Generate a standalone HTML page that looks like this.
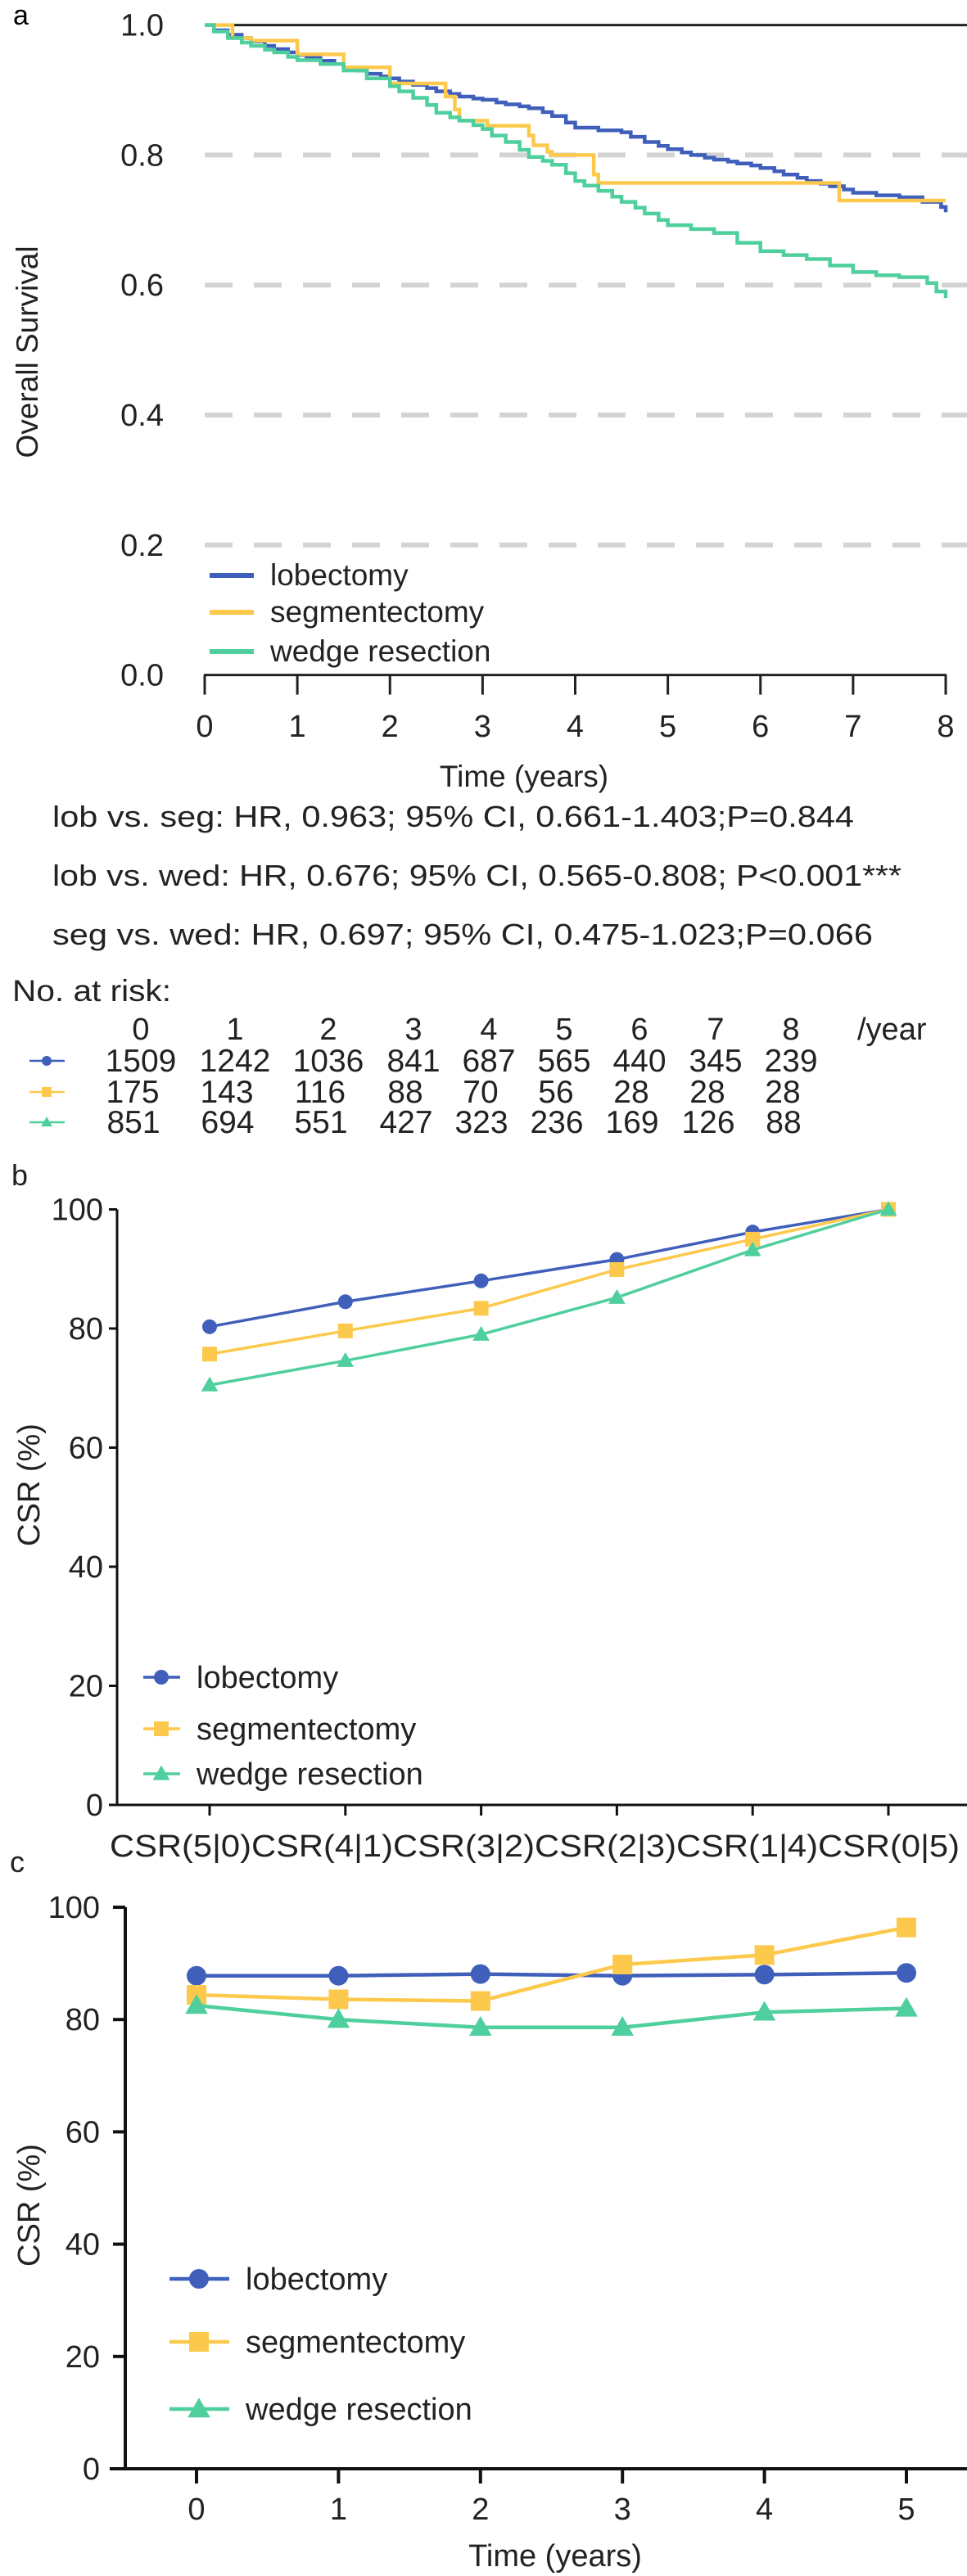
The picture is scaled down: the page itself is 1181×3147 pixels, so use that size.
<!DOCTYPE html>
<html><head><meta charset="utf-8"><style>
html,body{margin:0;padding:0;background:#fff}
svg{display:block;font-family:"Liberation Sans",Arial,sans-serif}
</style></head><body>
<svg id="fig" width="1181" height="3147" viewBox="0 0 1181 3147" xmlns="http://www.w3.org/2000/svg">
<g id="pa"></g>
<g id="pb"></g>
<g id="pc"></g>
</svg>
<script>
// ---------- Panel A data (Kaplan-Meier) ----------
const kmLobT = [0,0.1,0.25,0.4,0.5,0.65,0.75,0.9,1,1.1,1.25,1.4,1.5,1.65,1.75,1.9,2,2.1,2.25,2.4,2.5,2.65,2.75,2.9,3,3.15,3.25,3.4,3.5,3.65,3.75,3.9,4,4.25,4.5,4.6,4.75,4.9,5,5.15,5.25,5.4,5.5,5.65,5.75,5.9,6,6.15,6.25,6.4,6.5,6.65,6.75,6.9,7,7.25,7.5,7.75,7.95,8];
const kmLobS = [1,0.992,0.985,0.98,0.975,0.968,0.963,0.958,0.954,0.95,0.945,0.94,0.935,0.93,0.925,0.921,0.918,0.913,0.908,0.903,0.898,0.894,0.89,0.887,0.885,0.881,0.878,0.875,0.872,0.866,0.86,0.85,0.842,0.838,0.835,0.828,0.82,0.814,0.809,0.804,0.8,0.796,0.793,0.79,0.787,0.784,0.78,0.775,0.77,0.765,0.76,0.756,0.752,0.747,0.742,0.738,0.735,0.728,0.72,0.712];
const kmSegT = [0,0.3,0.5,1,1.5,2,2.6,2.7,2.75,3.05,3.5,3.55,3.7,3.75,4.2,4.25,4.3,6.85,8];
const kmSegS = [1,0.98,0.976,0.955,0.935,0.91,0.89,0.87,0.853,0.845,0.83,0.815,0.805,0.8,0.77,0.757,0.757,0.73,0.73];
const kmWedT = [0,0.1,0.25,0.4,0.5,0.65,0.75,0.9,1,1.25,1.5,1.75,2,2.1,2.25,2.4,2.5,2.65,2.75,2.9,3,3.1,3.25,3.4,3.5,3.65,3.75,3.9,4,4.1,4.25,4.4,4.5,4.65,4.75,4.9,5,5.25,5.5,5.75,6,6.25,6.5,6.75,7,7.25,7.5,7.8,7.9,8];
const kmWedS = [1,0.99,0.98,0.973,0.968,0.962,0.958,0.951,0.946,0.94,0.93,0.918,0.906,0.898,0.888,0.877,0.865,0.858,0.853,0.846,0.84,0.83,0.82,0.808,0.797,0.791,0.785,0.772,0.76,0.753,0.745,0.736,0.728,0.719,0.71,0.7,0.692,0.686,0.68,0.665,0.652,0.646,0.64,0.63,0.62,0.615,0.612,0.603,0.59,0.58];
const aYTicks = ["0.0","0.2","0.4","0.6","0.8","1.0"];
const aXTicks = ["0","1","2","3","4","5","6","7","8"];
const riskYears = ["0","1","2","3","4","5","6","7","8"];
const riskLob = ["1509","1242","1036","841","687","565","440","345","239"];
const riskSeg = ["175","143","116","88","70","56","28","28","28"];
const riskWed = ["851","694","551","427","323","236","169","126","88"];
// ---------- Panel B data ----------
const bCats = ["CSR(5|0)","CSR(4|1)","CSR(3|2)","CSR(2|3)","CSR(1|4)","CSR(0|5)"];
const bLob = [80.3,84.5,88,91.6,96.2,100];
const bSeg = [75.7,79.6,83.4,89.9,95,100];
const bWed = [70.5,74.6,79,85.2,93.2,100];
const csrTicks = ["0","20","40","60","80","100"];
// ---------- Panel C data ----------
const cYears = ["0","1","2","3","4","5"];
const cLob = [87.8,87.8,88.1,87.8,88.0,88.3];
const cSeg = [84.4,83.6,83.3,89.8,91.5,96.4];
const cWed = [82.5,80.0,78.6,78.6,81.3,82.0];

const NS="http://www.w3.org/2000/svg";
const BLUE="#3f5fba", YEL="#fdc94d", GRN="#4fcf9d";
function mk(parent,tag,attrs,text){const e=document.createElementNS(NS,tag);for(const k in attrs)e.setAttribute(k,attrs[k]);if(text!==undefined)e.textContent=text;parent.appendChild(e);return e;}
function marker(g,type,x,y,r,color){
  let e;
  if(type==="circle") e=mk(g,"circle",{cx:x,cy:y,r:r,fill:color});
  else if(type==="square") e=mk(g,"rect",{x:x-r,y:y-r,width:2*r,height:2*r,fill:color});
  else e=mk(g,"polygon",{points:`${x},${y-r*1.15} ${x-r*1.15},${y+r*0.85} ${x+r*1.15},${y+r*0.85}`,fill:color});
  return e;
}

// ================= Panel A =================
const pa=document.getElementById("pa");
const ax=v=>250+v*(1155-250)/8;
const ay=v=>824.6-v*(824.6-30.6);
let t=mk(pa,"text",{x:16,y:30,"font-size":34});t.textContent="a";


aYTicks.forEach(s=>{
  const v=parseFloat(s);
  const l=mk(pa,"text",{x:200,y:ay(v)+13,"font-size":38,"text-anchor":"end",fill:"#222"},s);
  
  
  if(v>0&&v<1){
    const gl=mk(pa,"line",{x1:250,x2:1181,y1:ay(v),y2:ay(v),stroke:"#d3d3d3","stroke-width":6,"stroke-dasharray":"34 26"});
    
    
  }
});
const topLine=mk(pa,"line",{x1:250,x2:1181,y1:ay(1),y2:ay(1),stroke:"#222","stroke-width":3});


const xax=mk(pa,"line",{x1:249,x2:1156,y1:ay(0),y2:ay(0),stroke:"#222","stroke-width":3});


aXTicks.forEach(s=>{
  const v=+s;
  const tk=mk(pa,"line",{x1:ax(v),x2:ax(v),y1:ay(0),y2:ay(0)+24,stroke:"#222","stroke-width":3});
  
  
  const l=mk(pa,"text",{x:ax(v),y:900,"font-size":38,"text-anchor":"middle",fill:"#222"},s);
  
  
});
t=mk(pa,"text",{x:640,y:961,"font-size":37,"text-anchor":"middle",fill:"#222"},"Time (years)");


t=mk(pa,"text",{x:0,y:0,"font-size":37,"text-anchor":"middle",fill:"#222",transform:"translate(46,430) rotate(-90)"},"Overall Survival");


function stepPath(T,S){let d=`M${ax(T[0])},${ay(S[0])}`;for(let i=1;i<T.length;i++){d+=` H${ax(T[i])} V${ay(S[i])}`;}return d;}
[[kmLobT,kmLobS,BLUE,'km-lobectomy'],[kmSegT,kmSegS,YEL,'km-segmentectomy'],[kmWedT,kmWedS,GRN,'km-wedge-resection']].forEach(([T,S,c,n])=>{
  const p=mk(pa,"path",{d:stepPath(T,S),fill:"none",stroke:c,"stroke-width":4.5});
  
  
});
[["lobectomy",BLUE,703],["segmentectomy",YEL,748],["wedge resection",GRN,796]].forEach(([n,c,y])=>{
  const g=mk(pa,"g",{});
  
  
  mk(g,"line",{x1:256,x2:310,y1:y,y2:y,stroke:c,"stroke-width":6});
  mk(g,"text",{x:330,y:y+12,"font-size":37,fill:"#222"},n);
});
// stats
[["lob vs. seg: HR, 0.963; 95% CI, 0.661-1.403;P=0.844",1010,979],
 ["lob vs. wed: HR, 0.676; 95% CI, 0.565-0.808; P<0.001***",1082,1037],
 ["seg vs. wed: HR, 0.697; 95% CI, 0.475-1.023;P=0.066",1154,1002]].forEach(([s,y,w])=>{
  const e=mk(pa,"text",{x:64,y:y,"font-size":36,fill:"#222",textLength:w,lengthAdjust:"spacingAndGlyphs"},s);
  
  
});
t=mk(pa,"text",{x:15,y:1223,"font-size":37,fill:"#222",textLength:194,lengthAdjust:"spacingAndGlyphs"},"No. at risk:");


const riskX=[172,287,401,505,597,689,781,874,966];
riskYears.forEach((s,i)=>{
  const e=mk(pa,"text",{x:riskX[i],y:1270,"font-size":38,"text-anchor":"middle",fill:"#222"},s);
  
  
});
t=mk(pa,"text",{x:1047,y:1270,"font-size":38,fill:"#222"},"/year");


[[riskLob,BLUE,"circle",1309,0],[riskSeg,YEL,"square",1347,-10],[riskWed,GRN,"tri",1384,-9]].forEach(([arr,c,m,y,dx])=>{
  const g=mk(pa,"g",{});
  
  
  mk(g,"line",{x1:36,x2:79,y1:y-13,y2:y-13,stroke:c,"stroke-width":2.5});
  marker(g,m,57,y-13,6,c);
  arr.forEach((s,i)=>mk(g,"text",{x:riskX[i]+dx,y:y,"font-size":39,"text-anchor":"middle",fill:"#222"},s));
});

// ================= Panel B =================
const pb=document.getElementById("pb");
const bx=i=>256+i*165.8;
const by=v=>2205-v*7.275;
t=mk(pb,"text",{x:14,y:1448,"font-size":36,fill:"#222"},"b");


const yb=mk(pb,"line",{x1:143,x2:143,y1:by(100),y2:by(0),stroke:"#111","stroke-width":3});


const xb=mk(pb,"line",{x1:133,x2:1181,y1:by(0),y2:by(0),stroke:"#111","stroke-width":3});


csrTicks.forEach(s=>{
  const v=+s;
  mk(pb,"line",{x1:133,x2:143,y1:by(v),y2:by(v),stroke:"#111","stroke-width":3});
  const l=mk(pb,"text",{x:126,y:by(v)+13,"font-size":38,"text-anchor":"end",fill:"#222"},s);
  
  
});
bCats.forEach((s,i)=>{
  mk(pb,"line",{x1:bx(i),x2:bx(i),y1:by(0),y2:by(0)+13,stroke:"#111","stroke-width":3});
  const l=mk(pb,"text",{x:bx(i)-35+i*1.5,y:2268,"font-size":38,fill:"#222",textLength:173,lengthAdjust:"spacingAndGlyphs","text-anchor":"start"},s);
  l.setAttribute('x',134+i*173);
  
  
});
t=mk(pb,"text",{x:0,y:0,"font-size":38,"text-anchor":"middle",fill:"#222",transform:"translate(48,1814) rotate(-90)"},"CSR (%)");


[[bLob,BLUE,"circle","lobectomy"],[bSeg,YEL,"square","segmentectomy"],[bWed,GRN,"tri","wedge-resection"]].forEach(([arr,c,m,n])=>{
  const g=mk(pb,"g",{});
  
  
  mk(g,"polyline",{points:arr.map((v,i)=>bx(i)+","+by(v)).join(" "),fill:"none",stroke:c,"stroke-width":3.5});
  arr.forEach((v,i)=>marker(g,m,bx(i),by(v),9,c));
});
[["lobectomy",BLUE,"circle",2049],["segmentectomy",YEL,"square",2112],["wedge resection",GRN,"tri",2167]].forEach(([n,c,m,y])=>{
  const g=mk(pb,"g",{});
  
  
  mk(g,"line",{x1:175,x2:220,y1:y,y2:y,stroke:c,"stroke-width":3.5});
  marker(g,m,197,y,9,c);
  mk(g,"text",{x:240,y:y+13,"font-size":38,fill:"#222"},n);
});

// ================= Panel C =================
const pc=document.getElementById("pc");
const cx=v=>240+v*173.4;
const cy=v=>3016-v*6.86;
t=mk(pc,"text",{x:12,y:2287,"font-size":36,fill:"#222"},"c");


const yc=mk(pc,"line",{x1:153,x2:153,y1:cy(100),y2:cy(0),stroke:"#111","stroke-width":4});


const xc=mk(pc,"line",{x1:134,x2:1181,y1:cy(0),y2:cy(0),stroke:"#111","stroke-width":4});


csrTicks.forEach(s=>{
  const v=+s;
  mk(pc,"line",{x1:138,x2:153,y1:cy(v),y2:cy(v),stroke:"#111","stroke-width":4});
  const l=mk(pc,"text",{x:122,y:cy(v)+13,"font-size":38,"text-anchor":"end",fill:"#222"},s);
  
  
});
cYears.forEach(s=>{
  const v=+s;
  mk(pc,"line",{x1:cx(v),x2:cx(v),y1:cy(0),y2:cy(0)+18,stroke:"#111","stroke-width":4});
  const l=mk(pc,"text",{x:cx(v),y:3078,"font-size":38,"text-anchor":"middle",fill:"#222"},s);
  
  
});
t=mk(pc,"text",{x:678,y:3135,"font-size":38,"text-anchor":"middle",fill:"#222"},"Time (years)");


t=mk(pc,"text",{x:0,y:0,"font-size":38,"text-anchor":"middle",fill:"#222",transform:"translate(48,2694) rotate(-90)"},"CSR (%)");


[[cLob,BLUE,"circle","lobectomy"],[cSeg,YEL,"square","segmentectomy"],[cWed,GRN,"tri","wedge-resection"]].forEach(([arr,c,m,n])=>{
  const g=mk(pc,"g",{});
  
  
  mk(g,"polyline",{points:arr.map((v,i)=>cx(i)+","+cy(v)).join(" "),fill:"none",stroke:c,"stroke-width":4.5});
  arr.forEach((v,i)=>marker(g,m,cx(i),cy(v),12,c));
});
[["lobectomy",BLUE,"circle",2784],["segmentectomy",YEL,"square",2861],["wedge resection",GRN,"tri",2943]].forEach(([n,c,m,y])=>{
  const g=mk(pc,"g",{});
  
  
  mk(g,"line",{x1:207,x2:280,y1:y,y2:y,stroke:c,"stroke-width":4.5});
  marker(g,m,243,y,12,c);
  mk(g,"text",{x:300,y:y+13,"font-size":38,fill:"#222"},n);
});
</script>
</body></html>
